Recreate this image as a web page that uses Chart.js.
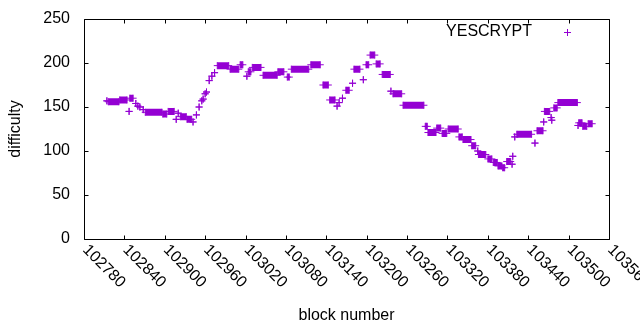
<!DOCTYPE html>
<html>
<head>
<meta charset="utf-8">
<script src="https://cdn.jsdelivr.net/npm/chart.js@4/dist/chart.umd.min.js"></script>
<style>
html,body{margin:0;padding:0;background:#fff;}
#wrap{width:640px;height:330px;}
</style>
</head>
<body>
<div id="wrap"><canvas id="c" width="640" height="330"></canvas></div>
<script>
const seriesLabel = 'YESCRYPT';
const xTitle = 'block number';
const yTitle = 'difficulty';
const xTickValues = [102780,102840,102900,102960,103020,103080,103140,103200,103260,103320,103380,103440,103500,103560];
const yTickValues = [0,50,100,150,200,250];
// Difficulty: held at runValue from runStart to runEnd (block numbers)
const runStart = [
102814,102816,102833,102847,102848,102857,102860,102863,102868,102871,
102897,102905,102917,102920,102923,102933,102942,102947,102951,102955,
102957,102960,102962,102966,102970,102974,102978,102997,103012,103022,
103024,103030,103046,103068,103082,103088,103117,103135,103145,103156,
103159,103164,103169,103179,103181,103195,103199,103205,103214,103223,
103236,103239,103254,103287,103291,103304,103312,103321,103337,103343,
103356,103365,103366,103380,103388,103395,103402,103408,103417,103416,
103420,103423,103450,103453,103463,103464,103474,103475,103478,103484,
103514,103515,103521,103529
];
const runEnd = [
102814,102832,102844,102847,102853,102857,102860,102863,102868,102896,
102903,102914,102917,102920,102932,102940,102942,102947,102951,102955,
102957,102960,102962,102966,102970,102974,102995,103010,103016,103022,
103028,103043,103067,103077,103085,103114,103131,103143,103153,103156,
103159,103164,103174,103179,103190,103195,103203,103212,103220,103235,
103236,103252,103285,103290,103303,103310,103319,103336,103342,103355,
103362,103365,103377,103386,103394,103401,103405,103414,103417,103416,
103420,103445,103450,103462,103463,103472,103474,103475,103483,103513,
103514,103520,103527,103535
];
const runValue = [
157,156,158,145,160,154,151,150,147,144,
142,145,136,143,139,136,133,141,150,157,
159,165,167,180,185,189,197,193,198,185,
190,195,186,190,184,193,198,175,158,151,
155,160,169,177,193,181,198,209,199,187,
168,165,152,128,121,126,120,125,116,113,
106,100,96,91,87,83,81,88,94,85,
116,119,109,123,133,145,138,135,149,155,
129,132,128,131
];

const COLOR = '#9400D3';
const FONT = '"Liberation Sans", Arial, sans-serif';
const FS = 16;

const points = [];
runStart.forEach((s, i) => {
  points.push({x: s, y: runValue[i]});
  points.push({x: runEnd[i], y: runValue[i]});
  points.push({x: runEnd[i], y: null});
});

const framePlugin = {
  id: 'gnuFrame',
  afterDraw(chart) {
    const ctx = chart.ctx;
    const a = chart.chartArea;
    const xs = chart.scales.x, ys = chart.scales.y;
    const L = Math.round(a.left) + 0.5, R = Math.round(a.right) + 0.5;
    const T = Math.round(a.top) + 0.5, B = Math.round(a.bottom) + 0.5;
    const TL = 4;
    ctx.save();
    ctx.strokeStyle = '#000';
    ctx.lineWidth = 1;
    ctx.beginPath();
    ctx.rect(L, T, R - L, B - T);
    ys.ticks.forEach(t => {
      const y = Math.round(ys.getPixelForValue(t.value)) + 0.5;
      ctx.moveTo(L, y); ctx.lineTo(L + TL, y);
      ctx.moveTo(R, y); ctx.lineTo(R - TL, y);
    });
    xs.ticks.forEach(t => {
      const x = Math.round(xs.getPixelForValue(t.value)) + 0.5;
      ctx.moveTo(x, B); ctx.lineTo(x, B - TL);
      ctx.moveTo(x, T); ctx.lineTo(x, T + TL);
    });
    ctx.stroke();
    ctx.fillStyle = '#000';
    ctx.font = FS + 'px ' + FONT;
    ctx.textAlign = 'left';
    ctx.textBaseline = 'middle';
    xs.ticks.forEach(t => {
      const x = xs.getPixelForValue(t.value);
      ctx.save();
      ctx.translate(x + 1, B + 8);
      ctx.rotate(Math.PI / 4);
      ctx.fillText(String(t.value), 0, 0);
      ctx.restore();
    });
    const ds = chart.data.datasets[0];
    ctx.textAlign = 'right';
    ctx.textBaseline = 'middle';
    ctx.fillText(ds.label, 532, 32);
    ctx.strokeStyle = ds.pointBorderColor;
    ctx.beginPath();
    const mx = 567.5, my = 32.5, r = 3.5;
    ctx.moveTo(mx - r, my); ctx.lineTo(mx + r, my);
    ctx.moveTo(mx, my - r); ctx.lineTo(mx, my + r);
    ctx.stroke();
    ctx.restore();
  }
};

new Chart(document.getElementById('c'), {
  type: 'scatter',
  data: {
    datasets: [{
      label: seriesLabel,
      data: points,
      showLine: true,
      spanGaps: false,
      borderColor: COLOR,
      borderWidth: 7,
      borderCapStyle: 'butt',
      tension: 0,
      fill: false,
      pointStyle: 'cross',
      pointRadius: 3.5,
      pointHoverRadius: 3.5,
      pointBorderWidth: 1,
      pointBorderColor: COLOR,
      pointBackgroundColor: COLOR
    }]
  },
  options: {
    responsive: false,
    animation: false,
    events: [],
    layout: { padding: { left: 0, right: 31, top: 19, bottom: 0 } },
    plugins: { legend: { display: false }, tooltip: { enabled: false } },
    scales: {
      x: {
        type: 'linear',
        min: 102780, max: 103560,
        afterBuildTicks: s => { s.ticks = xTickValues.map(v => ({value: v})); },
        afterFit: s => { s.height = 91; s.paddingLeft = 0; s.paddingRight = 0; },
        grid: { display: false, drawTicks: false },
        border: { display: false },
        ticks: { display: false },
        title: { display: true, text: xTitle, color: '#000', font: { family: FONT, size: FS }, padding: { top: 4, bottom: 5 } }
      },
      y: {
        type: 'linear',
        min: 0, max: 250,
        afterBuildTicks: s => { s.ticks = yTickValues.map(v => ({value: v})); },
        afterFit: s => { s.width = 84; s.paddingTop = 0; s.paddingBottom = 0; },
        grid: { display: false, drawTicks: false },
        border: { display: false },
        ticks: { color: '#000', padding: 14, font: { family: FONT, size: FS } },
        title: { display: true, text: yTitle, color: '#000', font: { family: FONT, size: FS }, padding: { top: 6, bottom: 4 } }
      }
    }
  },
  plugins: [framePlugin]
});
</script>
</body>
</html>
